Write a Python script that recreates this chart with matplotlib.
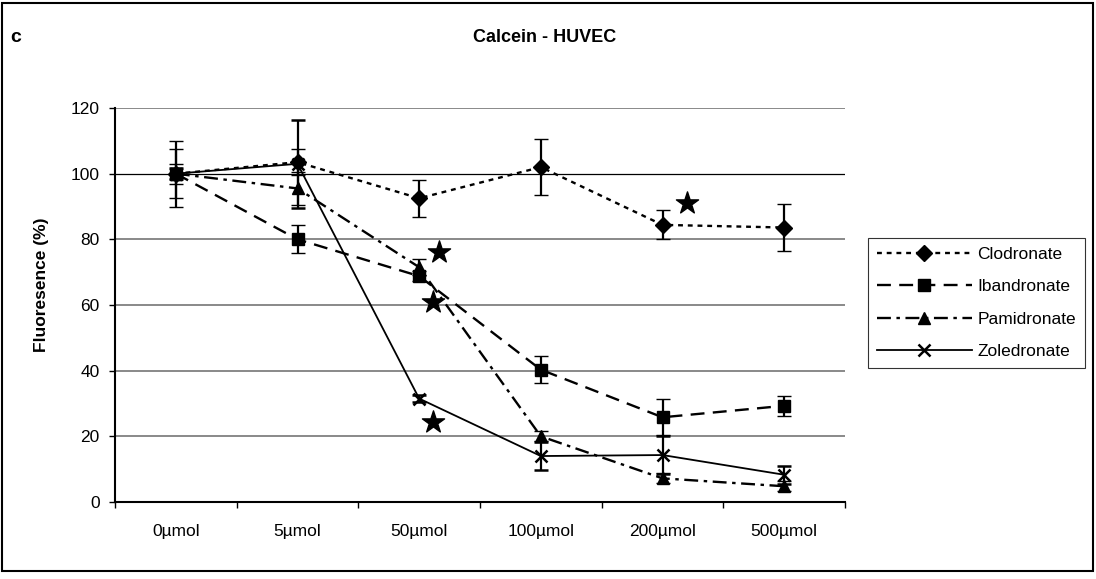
import matplotlib
matplotlib.use("Agg")
import matplotlib.pyplot as plt
from matplotlib.patches import Rectangle
from matplotlib.lines import Line2D
import numpy as np

plt.rcParams['font.family'] = ['Liberation Sans', 'DejaVu Sans']
plt.rcParams['lines.scale_dashes'] = False

# data
doses = ['0µmol', '5µmol', '50µmol', '100µmol', '200µmol', '500µmol']
clodronate = [100, 103.5, 92.5, 102, 84.4, 83.6]
clodronate_err = [7.5, 4, 5.6, 8.6, 4.4, 7.2]
ibandronate = [100, 80, 68.8, 40.3, 25.8, 29.3]
ibandronate_err = [3, 4.3, 1.5, 4.2, 5.5, 3]
pamidronate = [100, 95.5, 71.5, 20, 7.2, 4.8]
pamidronate_err = [10, 5, 2.5, 1.5, 1.5, 1.5]
zoledronate = [100, 103, 31.5, 14, 14.3, 8.3]
zoledronate_err = [1.6, 13.4, 1, 4.3, 5.7, 2.7]

# significance stars (x in category units)
star_x = [2.16, 2.11, 2.11, 4.2]
star_y = [76, 61, 24.5, 91]

fig = plt.figure(figsize=(10.96, 5.79), dpi=100)
ax = fig.add_axes([115/1096, 77/579, 730/1096, 394/579])

x = np.arange(len(doses))

series = [
    ('Clodronate', clodronate, clodronate_err, 'D', (0, (3.5, 3.5)), 1.7),
    ('Ibandronate', ibandronate, ibandronate_err, 's', (0, (10, 6)), 1.7),
    ('Pamidronate', pamidronate, pamidronate_err, '^', (0, (10, 4, 2.5, 4)), 1.7),
    ('Zoledronate', zoledronate, zoledronate_err, 'x', '-', 1.3),
]

handles = []
for name, vals, err, mk, ls, lw in series:
    mew = 1.8 if mk == 'x' else 1
    ax.errorbar(x, vals, yerr=err, color='black', marker=mk, markersize=8.5,
                markeredgewidth=mew, linestyle=ls, linewidth=lw,
                ecolor='black', elinewidth=1.6, capsize=5, capthick=1.6, zorder=3)
    handles.append(Line2D([], [], color='black', marker=mk, markersize=8.5,
                          markeredgewidth=mew, linestyle=ls, linewidth=lw, label=name))

ax.scatter(star_x, star_y, marker='*', s=280, color='black', zorder=4)

# gridlines
for g in [20, 40, 60, 80, 120]:
    ax.axhline(g, color='#808080', linewidth=1.3, zorder=1)
ax.axhline(100, color='black', linewidth=0.9, zorder=1)

ax.set_xlim(-0.5, 5.5)
ax.set_ylim(0, 120)
ax.set_yticks(np.arange(0, 121, 20))
ax.set_xticks(np.arange(-0.5, 6, 1))
ax.set_xticklabels([])
ax.set_xticks(x, minor=True)
ax.set_xticklabels(doses, minor=True)
ax.tick_params(axis='x', which='major', direction='out', length=4, width=1)
ax.tick_params(axis='x', which='minor', length=0, pad=16, labelsize=12.5)
ax.tick_params(axis='y', direction='out', length=4, width=1, pad=7, labelsize=12.5)

for s in ['top', 'right']:
    ax.spines[s].set_visible(False)
ax.spines['left'].set_linewidth(1.5)
ax.spines['bottom'].set_linewidth(1.5)

fig.text(42/1096, 1 - 285/579, 'Fluoresence (%)', rotation=90, ha='center', va='center',
         fontsize=12.5, fontweight='bold')
fig.text(545/1096, 1 - 38/579, 'Calcein - HUVEC', ha='center', va='center',
         fontsize=13, fontweight='bold')
fig.text(10/1096, 1 - 38/579, 'c', ha='left', va='center', fontsize=14, fontweight='bold')

leg = fig.legend(handles=handles, loc='upper left', bbox_to_anchor=(868/1096, 1 - 238/579),
                 fontsize=12.5, handlelength=5.5, handletextpad=0.3, labelspacing=1.0,
                 borderpad=0.5, borderaxespad=0, fancybox=False, frameon=True)
leg.get_frame().set_edgecolor('black')
leg.get_frame().set_linewidth(0.8)

fig.patches.append(Rectangle((2/1096, 1 - 571/579), 1091/1096, 568/579,
                             transform=fig.transFigure, fill=False,
                             edgecolor='black', linewidth=1.5))

fig.savefig('out.png', dpi=100)
